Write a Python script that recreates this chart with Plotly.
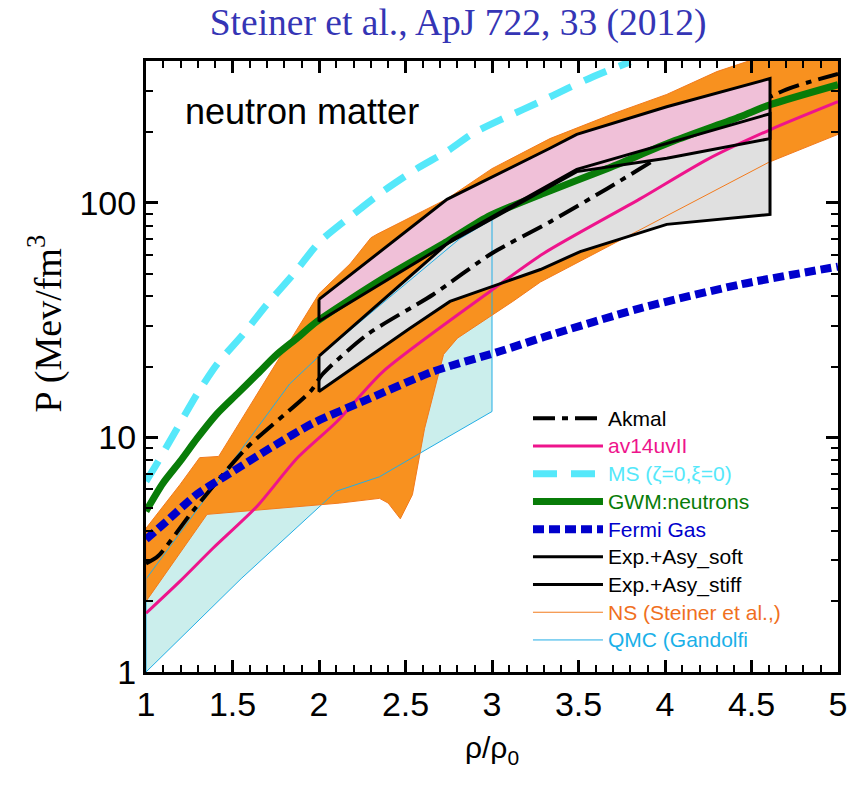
import plotly.graph_objects as go

# ---------------- data ----------------
# Akmal (dash-dot)
akmal_x = [1.0, 1.07, 1.27, 1.58, 1.95, 2.02, 2.28, 2.66, 3.0, 3.335, 3.665, 4.05, 4.18, 4.7, 5.0]
akmal_y = [2.9, 3.12, 4.85, 9.0, 15.7, 18.6, 27.5, 40.7, 61, 83, 115, 171, 196, 304, 355]

# av14uvII
av14_x = [1.0, 1.197, 1.387, 1.642, 1.873, 2.104, 2.37, 2.99, 3.3, 3.855, 4.243, 4.607, 5.0]
av14_y = [1.78, 2.44, 3.37, 5.09, 8.15, 11.7, 19.1, 42, 61, 104, 153, 205, 270]

# MS (zeta=0, xi=0)
ms_x = [1.0, 1.052, 1.179, 1.295, 1.41, 1.561, 1.699, 1.85, 2.006, 2.197, 2.37, 2.566,
        2.74, 2.89, 3.087, 3.277, 3.434, 3.584, 3.8]
ms_y = [6.5, 7.5, 10.9, 15.3, 20.5, 27.5, 36.9, 49.5, 68.5, 89.3, 112, 140,
        166, 198, 233, 270, 307, 345, 400]

# GWM: neutrons
gwm_x = [1.0, 1.098, 1.197, 1.295, 1.41, 1.526, 1.642, 1.757, 1.873, 1.988, 2.37, 2.74,
         2.99, 3.3, 3.665, 4.046, 4.434, 4.607, 5.0]
gwm_y = [4.85, 6.38, 7.9, 9.9, 12.6, 15.3, 18.6, 22.6, 26.5, 31.2, 47.6, 68.5,
         88.4, 110, 140, 183, 233, 262, 319]

# Fermi gas
fermi_x = [1.0, 1.12, 1.295, 1.486, 1.717, 1.965, 2.277, 2.66, 3.046, 3.3, 3.855, 4.434, 5.0]
fermi_y = [3.68, 4.4, 5.73, 7.04, 9.0, 11.5, 14.5, 19.1, 23.3, 26.8, 35.5, 44.9, 53.5]

# Exp.+Asy_soft band (grey)
soft_up_x = [2.0, 2.77, 3.49, 4.607]
soft_up_y = [22.2, 70, 139, 240]
soft_lo_x = [2.0, 2.526, 2.757, 3.28, 3.51, 4.01, 4.607]
soft_lo_y = [15.7, 29.2, 38, 52, 62, 81, 89.3]

# Exp.+Asy_stiff band (pink)
stiff_up_x = [2.0, 2.74, 3.335, 3.49, 4.01, 4.607]
stiff_up_y = [38.8, 103.5, 171, 196, 257, 339]
stiff_lo_x = [2.0, 2.74, 3.49, 4.01, 4.607]
stiff_lo_y = [31.3, 67, 136, 155, 188]

# NS (Steiner et al.) band
ns_up_x = [1.0, 1.197, 1.31, 1.42, 2.0, 2.18, 2.30, 2.335, 2.74, 3.0, 3.335, 3.7, 4.01, 4.3, 4.6, 5.0]
ns_up_y = [4.1, 6.3, 8.2, 8.3, 41, 55, 71, 73.5, 104, 140, 188, 240, 290, 363, 430, 520]
ns_lo_x = [1.0, 1.353, 2.12, 2.35, 2.40, 2.47, 2.54, 2.61, 2.72, 2.80, 3.12, 3.28, 4.6, 5.0]
ns_lo_y = [2.0, 4.7, 5.25, 5.5, 5.25, 4.5, 5.7, 10.9, 22.6, 26.5, 38, 46, 149, 196]

# QMC (Gandolfi) band
qmc_up_x = [1.0, 1.83, 2.0, 2.47, 2.815, 3.0]
qmc_up_y = [2.49, 16.9, 22.2, 43, 70.5, 85]
qmc_lo_x = [1.0, 1.55, 2.1, 2.35, 2.72, 3.0]
qmc_lo_y = [1.0, 2.5, 5.9, 6.8, 9.8, 12.9]

x_ticks = [1, 1.5, 2, 2.5, 3, 3.5, 4, 4.5, 5]
y_ticks = [1, 10, 100]
y_ticktext = ["1", "10", "100"]

# ---------------- styles ----------------
C_ORANGE_FILL = "#f8911f"
C_ORANGE_LINE = "#f27a1c"
C_ORANGE_TXT = "#f0701e"
C_QMC_FILL = "#cbeeec"
C_QMC_LINE = "#22aee6"
C_QMC_TXT = "#1ab0e8"
C_PINK_FILL = "#f0c0d8"
C_GREY_FILL = "#e0e0e0"
C_MAG = "#ee148c"
C_MS = "#55e8fa"
C_GREEN = "#087c08"
C_BLUE = "#0000cc"
SANS = "Liberation Sans, Arial, sans-serif"
SERIF = "Liberation Serif, Times New Roman, serif"


def polygon(ux, uy, lx, ly, close=False):
    px = list(ux) + list(lx)[::-1]
    py = list(uy) + list(ly)[::-1]
    if close:
        px.append(px[0])
        py.append(py[0])
    return px, py


def lg(text, color):
    return '<span style="font-size:21px;color:%s">%s</span>' % (color, text)


SMOOTH = dict(shape="spline", smoothing=0.7)

fig = go.Figure()

# fills
qx, qy = polygon(qmc_up_x, qmc_up_y, qmc_lo_x, qmc_lo_y)
fig.add_trace(go.Scatter(x=qx, y=qy, fill="toself", fillcolor=C_QMC_FILL, mode="none",
                         showlegend=False, hoverinfo="skip"))
nx, ny = polygon(ns_up_x, ns_up_y, ns_lo_x, ns_lo_y)
fig.add_trace(go.Scatter(x=nx, y=ny, fill="toself", fillcolor=C_ORANGE_FILL, mode="none",
                         showlegend=False, hoverinfo="skip"))
sx, sy = polygon(soft_up_x, soft_up_y, soft_lo_x, soft_lo_y)
fig.add_trace(go.Scatter(x=sx, y=sy, fill="toself", fillcolor=C_GREY_FILL, mode="none",
                         showlegend=False, hoverinfo="skip"))

# QMC and NS outlines (legend entries)
qx2, qy2 = polygon(qmc_up_x, qmc_up_y, qmc_lo_x, qmc_lo_y, close=True)
fig.add_trace(go.Scatter(x=qx2, y=qy2, mode="lines", line=dict(color=C_QMC_LINE, width=1),
                         name=lg("QMC (Gandolfi", C_QMC_TXT), legendrank=9))
nx2, ny2 = polygon(ns_up_x, ns_up_y, ns_lo_x, ns_lo_y, close=True)
fig.add_trace(go.Scatter(x=nx2, y=ny2, mode="lines", line=dict(color=C_ORANGE_LINE, width=1),
                         name=lg("NS (Steiner et al.,)", C_ORANGE_TXT), legendrank=8))

# Akmal
fig.add_trace(go.Scatter(x=akmal_x, y=akmal_y, mode="lines",
                         line=dict(color="black", width=4, dash="22px,7px,6px,7px", **SMOOTH),
                         name=lg("Akmal", "black"), legendrank=1))

# stiff fill (on top of Akmal)
px_, py_ = polygon(stiff_up_x, stiff_up_y, stiff_lo_x, stiff_lo_y)
fig.add_trace(go.Scatter(x=px_, y=py_, fill="toself", fillcolor=C_PINK_FILL, mode="none",
                         showlegend=False, hoverinfo="skip"))

fig.add_trace(go.Scatter(x=av14_x, y=av14_y, mode="lines",
                         line=dict(color=C_MAG, width=3, **SMOOTH),
                         name=lg("av14uvII", C_MAG), legendrank=2))
fig.add_trace(go.Scatter(x=ms_x, y=ms_y, mode="lines",
                         line=dict(color=C_MS, width=7, dash="24px,14px", **SMOOTH),
                         name=lg("MS (\u03b6=0,\u03be=0)", C_MS), legendrank=3))
fig.add_trace(go.Scatter(x=gwm_x, y=gwm_y, mode="lines",
                         line=dict(color=C_GREEN, width=7, **SMOOTH),
                         name=lg("GWM:neutrons", C_GREEN), legendrank=4))
fig.add_trace(go.Scatter(x=fermi_x, y=fermi_y, mode="lines",
                         line=dict(color=C_BLUE, width=8, dash="11px,5px", **SMOOTH),
                         name=lg("Fermi Gas", C_BLUE), legendrank=5))

# box outlines
sx2, sy2 = polygon(soft_up_x, soft_up_y, soft_lo_x, soft_lo_y, close=True)
fig.add_trace(go.Scatter(x=sx2, y=sy2, mode="lines", line=dict(color="black", width=3),
                         name=lg("Exp.+Asy_soft", "black"), legendrank=6))
px2, py2 = polygon(stiff_up_x, stiff_up_y, stiff_lo_x, stiff_lo_y, close=True)
fig.add_trace(go.Scatter(x=px2, y=py2, mode="lines", line=dict(color="black", width=3),
                         name=lg("Exp.+Asy_stiff", "black"), legendrank=7))

axis_common = dict(showline=True, linecolor="black", linewidth=3, mirror="allticks",
                   ticks="inside", ticklen=12, tickwidth=2.5, tickcolor="black",
                   showgrid=False, zeroline=False,
                   tickfont=dict(family=SANS, size=34, color="black"))

fig.update_xaxes(range=[1, 5], tickvals=x_ticks,
                 minor=dict(dtick=0.1, ticks="inside", ticklen=7, tickwidth=2, tickcolor="black"),
                 title=dict(text="\u03c1/\u03c1<sub>0</sub>", font=dict(family=SANS, size=30, color="black"),
                            standoff=16),
                 **axis_common)
fig.update_yaxes(type="log", range=[0, 2.605], tickvals=y_ticks, ticktext=y_ticktext,
                 minor=dict(tickvals=[2, 3, 4, 5, 6, 7, 8, 9, 20, 30, 40, 50, 60, 70, 80, 90, 200, 300, 400],
                            ticks="inside", ticklen=7, tickwidth=2, tickcolor="black"),
                 **axis_common)

fig.update_layout(
    width=858, height=793,
    margin=dict(l=146, r=20, t=61, b=121),
    plot_bgcolor="white", paper_bgcolor="white",
    title=dict(text="Steiner et al., ApJ 722, 33 (2012)", x=0.534, xanchor="center",
               y=0.972, yanchor="middle",
               font=dict(family=SERIF, size=37.5, color="#3535b5")),
    legend=dict(x=0.552, xanchor="left", y=0.446, yanchor="top",
                bgcolor="rgba(0,0,0,0)", borderwidth=0, itemwidth=70,
                font=dict(family=SANS, size=19, color="black"),
                traceorder="normal"),
    annotations=[
        dict(text="neutron matter", xref="paper", yref="paper", x=0.053, y=0.918,
             xanchor="left", yanchor="middle", showarrow=False,
             font=dict(family=SANS, size=36, color="black")),
        dict(text="P (Mev/fm<sup>3</sup>", xref="paper", yref="paper", x=-0.145, y=0.57,
             xanchor="center", yanchor="middle", textangle=-90, showarrow=False,
             font=dict(family=SERIF, size=38, color="black")),
    ],
)

fig.write_html("out.html")
